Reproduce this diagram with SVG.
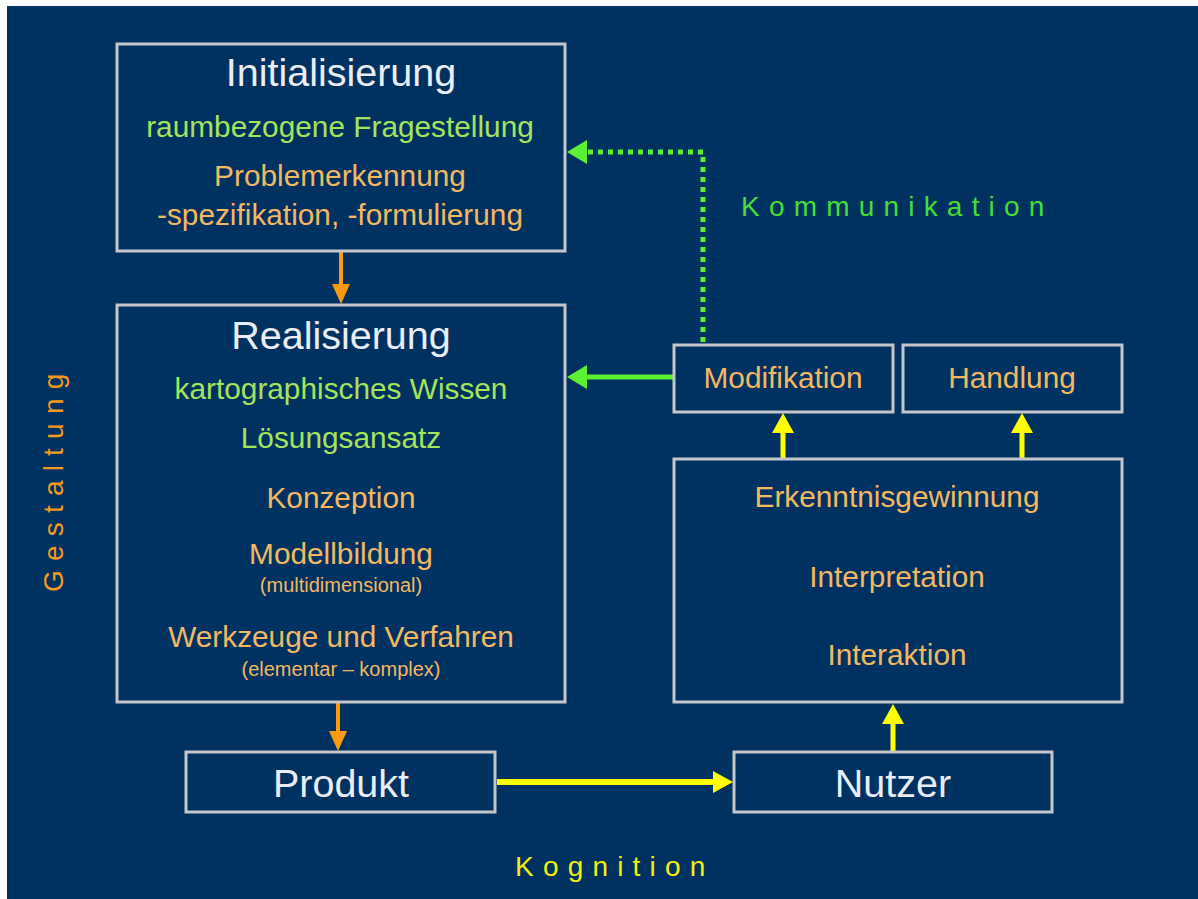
<svg xmlns="http://www.w3.org/2000/svg" width="1198" height="899" viewBox="0 0 1198 899">
  <style>
    .box { fill: none; stroke: #c4c6cc; stroke-width: 3; }
    text { font-family: "Liberation Sans", Arial, sans-serif; text-anchor: middle; }
    .title { font-size: 39.5px; fill: #e9edf5; }
    .green { font-size: 29.8px; fill: #a4e35c; }
    .orange { font-size: 29.8px; fill: #f2b862; }
    .small { font-size: 20px; fill: #f2b862; }
    .spaced { font-size: 28px; letter-spacing: 9.2px; text-anchor: start; }
    .c-orange { stroke: #ff9a10; stroke-width: 4; fill: none; }
    .c-yellow { stroke: #ffff00; stroke-width: 5; fill: none; }
    .c-yellow-wide { stroke: #ffff00; stroke-width: 6; fill: none; }
    .c-green { stroke: #5cf032; stroke-width: 5; fill: none; }
    .c-dotted { stroke: #5cf032; stroke-width: 5; fill: none; stroke-dasharray: 5 5; }
  </style>
  <defs>
    <marker id="ah-orange" markerUnits="userSpaceOnUse" markerWidth="20" markerHeight="18" refX="0" refY="9" orient="auto">
      <path d="M0,0 L20,9 L0,18 Z" fill="#ff9a10"/>
    </marker>
    <marker id="ah-yellow" markerUnits="userSpaceOnUse" markerWidth="20" markerHeight="22" refX="0" refY="11" orient="auto">
      <path d="M0,0 L20,11 L0,22 Z" fill="#ffff00"/>
    </marker>
    <marker id="ah-green" markerUnits="userSpaceOnUse" markerWidth="20" markerHeight="24" refX="0" refY="12" orient="auto">
      <path d="M0,0 L20,12 L0,24 Z" fill="#5cf032"/>
    </marker>
  </defs>

  <!-- page -->
  <rect x="0" y="0" width="1198" height="899" fill="#ffffff"/>
  <rect x="7" y="6" width="1191" height="893" fill="#003261"/>

  <!-- side labels -->
  <text class="spaced" x="741" y="216" fill="#43de35">Kommunikation</text>
  <text class="spaced" x="515" y="876" fill="#f2ee10">Kognition</text>
  <text class="spaced" transform="translate(63,592) rotate(-90)" x="0" y="0" fill="#f5991f">Gestaltung</text>

  <!-- connectors -->
  <g id="connectors">
    <line class="c-orange" x1="341" y1="252" x2="341" y2="284" marker-end="url(#ah-orange)"/>
    <line class="c-orange" x1="338" y1="703" x2="338" y2="731" marker-end="url(#ah-orange)"/>
    <line class="c-yellow-wide" x1="497" y1="782" x2="713" y2="782" marker-end="url(#ah-yellow)"/>
    <line class="c-yellow" x1="893" y1="751" x2="893" y2="724" marker-end="url(#ah-yellow)"/>
    <line class="c-yellow" x1="783" y1="458" x2="783" y2="433" marker-end="url(#ah-yellow)"/>
    <line class="c-yellow" x1="1022" y1="458" x2="1022" y2="433" marker-end="url(#ah-yellow)"/>
    <line class="c-green" x1="673" y1="377" x2="587" y2="377" marker-end="url(#ah-green)"/>
    <polyline class="c-dotted" points="703,342 703,152 587,152" marker-end="url(#ah-green)"/>
  </g>

  <g id="initialisierung">
    <rect class="box" x="117" y="44" width="448" height="207"/>
    <text class="title" x="341" y="86">Initialisierung</text>
    <text class="green" x="340" y="137">raumbezogene Fragestellung</text>
    <text class="orange" x="340" y="186">Problemerkennung</text>
    <text class="orange" x="340" y="225">-spezifikation, -formulierung</text>
  </g>

  <g id="realisierung">
    <rect class="box" x="117" y="305" width="448" height="397"/>
    <text class="title" x="341" y="349">Realisierung</text>
    <text class="green" x="341" y="399">kartographisches Wissen</text>
    <text class="green" x="341" y="448">Lösungsansatz</text>
    <text class="orange" x="341" y="508">Konzeption</text>
    <text class="orange" x="341" y="564">Modellbildung</text>
    <text class="small" x="341" y="592">(multidimensional)</text>
    <text class="orange" x="341" y="647">Werkzeuge und Verfahren</text>
    <text class="small" x="341" y="676">(elementar – komplex)</text>
  </g>

  <g id="modifikation">
    <rect class="box" x="674" y="345" width="219" height="67"/>
    <text class="orange" x="783" y="388">Modifikation</text>
  </g>

  <g id="handlung">
    <rect class="box" x="903" y="345" width="219" height="67"/>
    <text class="orange" x="1012" y="388">Handlung</text>
  </g>

  <g id="erkenntnis">
    <rect class="box" x="674" y="459" width="448" height="243"/>
    <text class="orange" x="897" y="507">Erkenntnisgewinnung</text>
    <text class="orange" x="897" y="587">Interpretation</text>
    <text class="orange" x="897" y="665">Interaktion</text>
  </g>

  <g id="produkt">
    <rect class="box" x="186" y="752" width="309" height="60"/>
    <text class="title" x="341" y="797">Produkt</text>
  </g>

  <g id="nutzer">
    <rect class="box" x="734" y="752" width="318" height="60"/>
    <text class="title" x="893" y="797">Nutzer</text>
  </g>
</svg>
